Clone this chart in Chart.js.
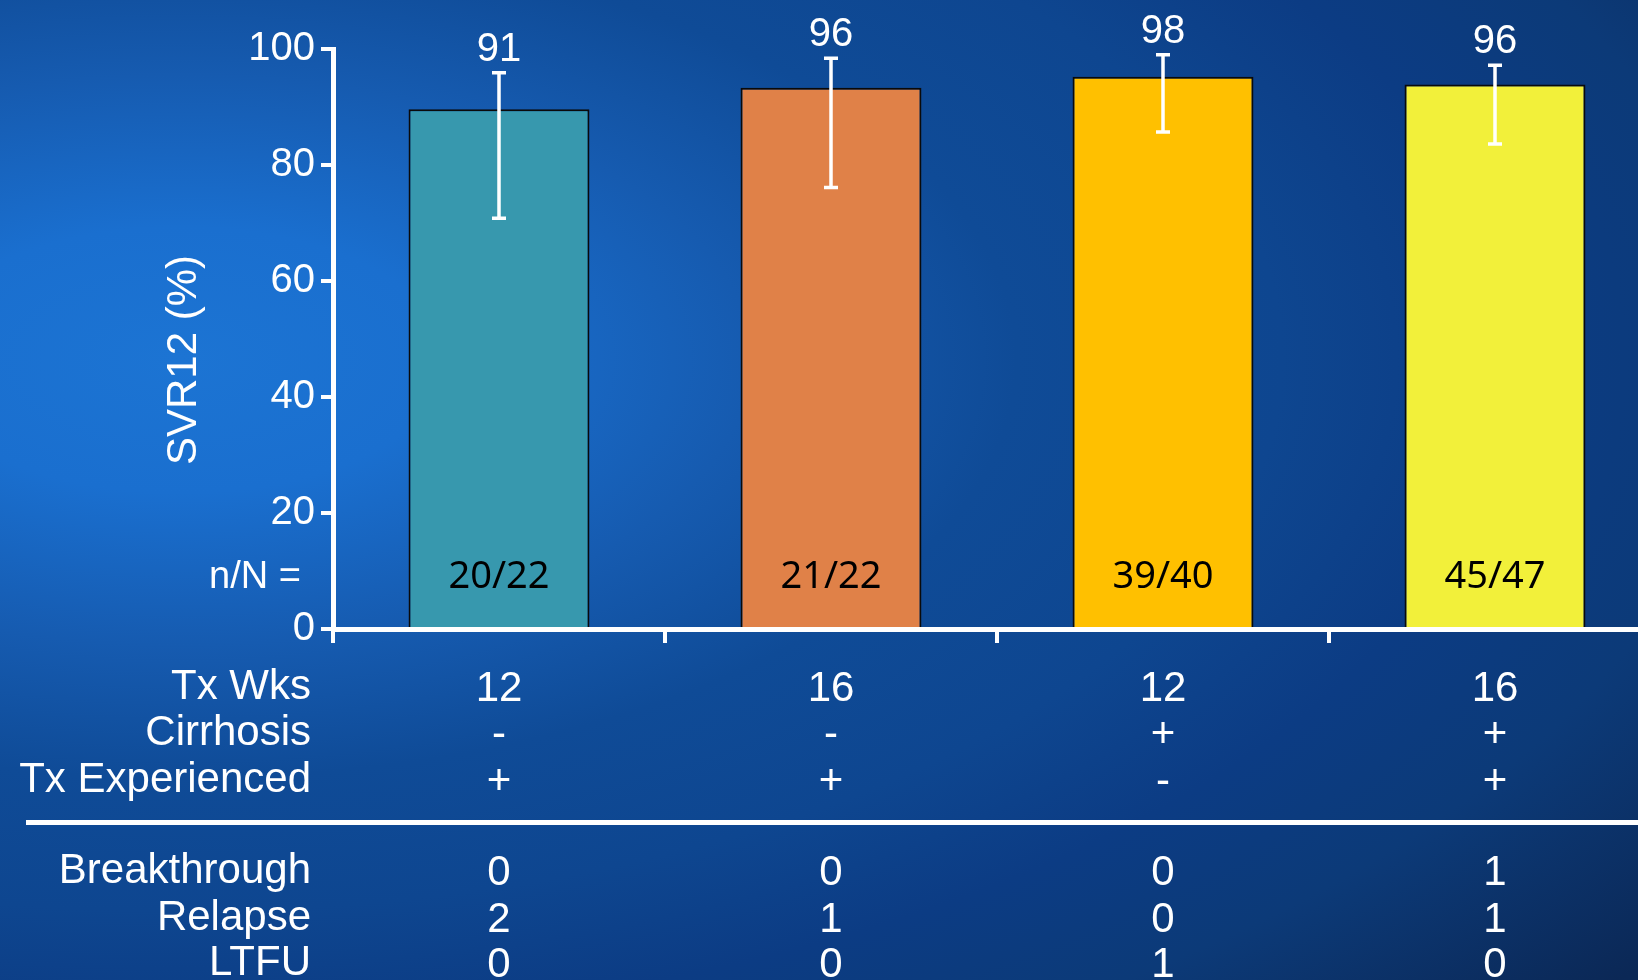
<!DOCTYPE html>
<html lang="en">
<head>
<meta charset="UTF-8">
<meta name="viewport" content="width=device-width, initial-scale=1.0">
<title>SVR12 by treatment group</title>
<script src="https://cdn.jsdelivr.net/npm/chart.js"></script>
<style>
  html, body { margin: 0; padding: 0; width: 1638px; height: 980px; overflow: hidden; }
  body {
    background-color: #0b2856;
    background-image: radial-gradient(ellipse 1900px 950px at 180px 360px,
      #1c74d3 0%, #1a6fcf 14%, #165bb0 30%, #0f4b97 44%, #0e4690 58%,
      #0c3c84 70%, #0c3a78 82%, #0b2856 100%);
  }
  #svrChart { display: block; width: 1664px; height: 980px; }
</style>
</head>
<body>
<canvas id="svrChart" width="1664" height="980"></canvas>

<script>
    // data
    const groups = ['12 wk / no cirrhosis / exp', '16 wk / no cirrhosis / exp', '12 wk / cirrhosis / naive', '16 wk / cirrhosis / exp'];
    const svrBars = [89.6, 93.3, 95.2, 93.9];      // bar heights as drawn
    const svrLabels = ['91', '96', '98', '96'];    // printed values
    const ciLow = [70.8, 76.1, 85.7, 83.6];
    const ciHigh = [95.9, 98.4, 99.0, 97.2];
    const nOverN = ['20/22', '21/22', '39/40', '45/47'];
    const yTicks = [0, 20, 40, 60, 80, 100];

    const txWeeks = ['12', '16', '12', '16'];
    const cirrhosis = ['-', '-', '+', '+'];
    const txExperienced = ['+', '+', '-', '+'];
    const breakthrough = ['0', '0', '0', '1'];
    const relapse = ['2', '1', '0', '1'];
    const ltfu = ['0', '0', '1', '0'];

    const sans = '"Liberation Sans", Arial, sans-serif';

    // table under the axis, error bars and labels
    const overlay = {
        id: 'overlay',
        afterDatasetsDraw(chart) {
            const {ctx, scales: {x, y}} = chart;
            ctx.save();
            ciHigh.forEach((hi, i) => {
                const cx = x.getPixelForValue(i);
                const yt = y.getPixelForValue(hi);
                const yb = y.getPixelForValue(ciLow[i]);
                ctx.strokeStyle = '#ffffff';
                ctx.lineWidth = 3.5;
                ctx.beginPath();
                ctx.moveTo(cx, yt); ctx.lineTo(cx, yb);
                ctx.moveTo(cx - 7, yt); ctx.lineTo(cx + 7, yt);
                ctx.moveTo(cx - 7, yb); ctx.lineTo(cx + 7, yb);
                ctx.stroke();

                ctx.fillStyle = '#ffffff';
                ctx.font = '40px ' + sans;
                ctx.textAlign = 'center';
                ctx.textBaseline = 'alphabetic';
                ctx.fillText(svrLabels[i], cx, yt - 12);

                ctx.fillStyle = '#000000';
                ctx.font = '38px "Noto Sans", sans-serif';
                ctx.fillText(nOverN[i], cx, y.bottom - 41);
            });
            ctx.restore();
        },
        afterDraw(chart) {
            const {ctx, scales: {x, y}} = chart;
            ctx.save();
            ctx.fillStyle = '#ffffff';
            ctx.textBaseline = 'alphabetic';

            // y title, centred a bit lower than the axis middle like the slide
            ctx.save();
            ctx.translate(184, 360);
            ctx.rotate(-Math.PI / 2);
            ctx.font = '42px ' + sans;
            ctx.textAlign = 'center';
            ctx.textBaseline = 'middle';
            ctx.fillText('SVR12 (%)', 0, 0);
            ctx.restore();

            ctx.font = '38px ' + sans;
            ctx.textAlign = 'right';
            ctx.fillText('n/N =', 301, y.bottom - 41);

            const rows = [
                ['Tx Wks', txWeeks, 699],
                ['Cirrhosis', cirrhosis, 745],
                ['Tx Experienced', txExperienced, 792],
                ['Breakthrough', breakthrough, 883],
                ['Relapse', relapse, 930],
                ['LTFU', ltfu, 975]
            ];
            ctx.font = '42px ' + sans;
            rows.forEach(([label, vals, base]) => {
                ctx.textAlign = 'right';
                ctx.fillText(label, 311, base);
                ctx.textAlign = 'center';
                vals.forEach((v, i) => ctx.fillText(v, x.getPixelForValue(i), base + 2));
            });

            // separator between design and outcome rows
            ctx.fillRect(26, 820, chart.width, 5);
            ctx.restore();
        }
    };

    const chart = new Chart(document.getElementById('svrChart'), {
        type: 'bar',
        data: {
            labels: groups,
            datasets: [{
                data: svrBars,
                backgroundColor: ['#3798ae', '#e08148', '#ffc000', '#f2f03a'],
                borderColor: '#0a0a0a',
                borderWidth: 2,
                barPercentage: 1,
                categoryPercentage: 0.545
            }]
        },
        options: {
            responsive: false,
            animation: false,
            devicePixelRatio: 1,
            layout: { padding: { top: 49, right: 3, left: 0, bottom: 0 } },
            plugins: {
                legend: { display: false },
                tooltip: { enabled: false }
            },
            scales: {
                x: {
                    z: 1,
                    offset: true,
                    grid: {
                        offset: true,
                        drawOnChartArea: false,
                        drawTicks: true,
                        tickLength: 14,
                        lineWidth: 4,
                        color: '#ffffff'
                    },
                    border: { color: '#ffffff', width: 5 },
                    ticks: { display: false },
                    afterFit: s => { s.height = 351; }
                },
                y: {
                    z: 1,
                    min: 0,
                    max: 100,
                    afterBuildTicks: s => { s.ticks = yTicks.map(v => ({value: v})); },
                    grid: {
                        drawOnChartArea: false,
                        drawTicks: true,
                        tickLength: 12,
                        lineWidth: 4,
                        color: '#ffffff'
                    },
                    border: { color: '#ffffff', width: 5 },
                    ticks: {
                        color: '#ffffff',
                        padding: 6,
                        font: { family: sans, size: 40 }
                    },
                    afterFit: s => { s.width = 333; }
                }
            }
        },
        plugins: [overlay]
    });
</script>
</body>
</html>
